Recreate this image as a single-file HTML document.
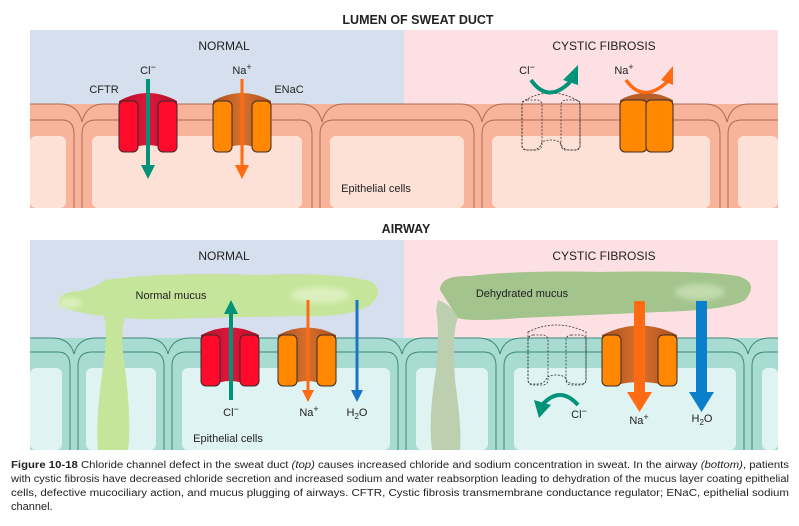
<!DOCTYPE html>
<html><head><meta charset="utf-8"><style>
html,body{margin:0;padding:0;background:#fff;width:799px;height:526px;overflow:hidden}
svg{display:block;font-family:"Liberation Sans",sans-serif}
</style></head><body>
<svg width="799" height="526" viewBox="0 0 799 526" xmlns="http://www.w3.org/2000/svg">
<defs>
<filter id="bl" x="-10%" y="-30%" width="120%" height="160%"><feGaussianBlur stdDeviation="3"/></filter>
<linearGradient id="brown" x1="0" x2="1"><stop offset="0" stop-color="#a8501e"/><stop offset="0.5" stop-color="#d8702c"/><stop offset="1" stop-color="#a8501e"/></linearGradient>
<linearGradient id="crim" x1="0" x2="1"><stop offset="0" stop-color="#b0102a"/><stop offset="0.5" stop-color="#e0163a"/><stop offset="1" stop-color="#b0102a"/></linearGradient>
</defs>

<!-- TOP -->
<text x="418" y="24" text-anchor="middle" font-size="12.5" font-weight="bold" fill="#222">LUMEN OF SWEAT DUCT</text>
<rect x="30" y="30" width="374" height="178" fill="#d5dfed"/>
<rect x="404" y="30" width="374" height="178" fill="#fde0e3"/>
<rect x="30" y="104" width="748" height="104" fill="#f8b39b"/>
<g fill="none" stroke="#b06a55" stroke-width="1">
<path d="M30 104 H60 Q78 104 82 122 Q86 104 104 104 H300 Q318 104 322 122 Q326 104 344 104 H460 Q478 104 482 122 Q486 104 504 104 H705 Q723 104 727 122 Q731 104 749 104 H778"/>
<path d="M30 120 H62 Q74 120 74 134 V208 M82 208 V134 Q82 120 96 120 H300 Q312 120 312 134 V208 M320 208 V134 Q320 120 334 120 H462 Q474 120 474 134 V208 M482 208 V134 Q482 120 496 120 H708 Q720 120 720 134 V208 M728 208 V134 Q728 120 742 120 H778"/>
</g>
<g fill="#fde0d6">
<rect x="30" y="136" width="36" height="72" rx="6"/>
<rect x="92" y="136" width="210" height="72" rx="6"/>
<rect x="330" y="136" width="134" height="72" rx="6"/>
<rect x="492" y="136" width="218" height="72" rx="6"/>
<rect x="738" y="136" width="40" height="72" rx="6"/>
</g>
<text x="224" y="50" text-anchor="middle" font-size="12" fill="#222">NORMAL</text>
<text x="604" y="50" text-anchor="middle" font-size="12" fill="#222">CYSTIC FIBROSIS</text>
<text x="104" y="93" text-anchor="middle" font-size="11" fill="#222">CFTR</text>
<text x="289" y="93" text-anchor="middle" font-size="11" fill="#222">ENaC</text>
<text x="148" y="74" text-anchor="middle" font-size="11" fill="#222">Cl<tspan dy="-4" font-size="9">−</tspan></text>
<text x="242" y="74" text-anchor="middle" font-size="11" fill="#222">Na<tspan dy="-4" font-size="9">+</tspan></text>
<text x="376" y="192" text-anchor="middle" font-size="11" fill="#222">Epithelial cells</text>

<g stroke="#3a2a2a" stroke-width="1">
<path d="M119 101 Q148 85 177 101 V140 Q177 150 168 150 Q148 140 128 150 Q119 150 119 140Z" fill="url(#crim)" stroke="none"/>
<rect x="119" y="101" width="19" height="51" rx="5" fill="#ff0a2a"/>
<rect x="158" y="101" width="19" height="51" rx="5" fill="#ff0a2a"/>
<path d="M213 101 Q242 85 271 101 V140 Q271 150 262 150 Q242 140 222 150 Q213 150 213 140Z" fill="url(#brown)" stroke="none"/>
<rect x="213" y="101" width="19" height="51" rx="5" fill="#ff8800"/>
<rect x="252" y="101" width="19" height="51" rx="5" fill="#ff8800"/>
</g>
<line x1="148" y1="79" x2="148" y2="168" stroke="#00937a" stroke-width="4"/>
<path d="M141 165 L148 179 L155 165Z" fill="#00937a"/>
<line x1="242" y1="79" x2="242" y2="168" stroke="#ff6a13" stroke-width="3"/>
<path d="M235 165 L242 179 L249 165Z" fill="#ff6a13"/>

<g fill="none" stroke="#333" stroke-width="0.8" stroke-dasharray="2,1.5">
<path d="M522 102 Q551 84 580 102 V146 Q580 150 575 150 H570 Q562 150 560 142 Q551 138 542 142 Q540 150 532 150 H527 Q522 150 522 146Z"/>
<rect x="522" y="100" width="20" height="50" rx="5"/>
<rect x="561" y="100" width="19" height="50" rx="5"/>
</g>
<path d="M620 100 Q646 86 673 100 V110 H620Z" fill="#b8602a"/>
<g stroke="#3a2a2a" stroke-width="1" fill="#ff8800">
<rect x="620" y="100" width="27" height="52" rx="5"/>
<rect x="646" y="100" width="27" height="52" rx="5"/>
</g>
<text x="527" y="74" text-anchor="middle" font-size="11" fill="#222">Cl<tspan dy="-4" font-size="9">−</tspan></text>
<text x="624" y="74" text-anchor="middle" font-size="11" fill="#222">Na<tspan dy="-4" font-size="9">+</tspan></text>
<path d="M531 80 Q548 104 570 82" fill="none" stroke="#00937a" stroke-width="4"/>
<path d="M563 80 L578 65 L578 85Z" fill="#00937a"/>
<path d="M626 80 Q643 104 667 82" fill="none" stroke="#ff6a13" stroke-width="3.5"/>
<path d="M661 80 L673 66 L673 85Z" fill="#ff6a13"/>

<!-- BOTTOM -->
<text x="406" y="233" text-anchor="middle" font-size="12.5" font-weight="bold" fill="#222">AIRWAY</text>
<rect x="30" y="240" width="374" height="210" fill="#d5dfed"/>
<rect x="404" y="240" width="374" height="210" fill="#fde0e3"/>
<rect x="30" y="338" width="748" height="112" fill="#a8dbd2"/>
<g fill="none" stroke="#3d8a75" stroke-width="1">
<path d="M30 338 H52 Q70 338 74 354 Q78 338 96 338 H146 Q164 338 168 354 Q172 338 190 338 H380 Q398 338 402 354 Q406 338 424 338 H478 Q496 338 500 354 Q504 338 522 338 H726 Q744 338 748 354 Q752 338 770 338 H778"/>
<path d="M30 352 H58 Q70 352 70 366 V450 M78 450 V366 Q78 352 92 352 H152 Q164 352 164 366 V450 M172 450 V366 Q172 352 186 352 H386 Q398 352 398 366 V450 M406 450 V366 Q406 352 420 352 H484 Q496 352 496 366 V450 M504 450 V366 Q504 352 518 352 H732 Q744 352 744 366 V450 M752 450 V366 Q752 352 766 352 H778"/>
</g>
<g fill="#dff4f2">
<rect x="30" y="368" width="32" height="82" rx="6"/>
<rect x="86" y="368" width="70" height="82" rx="6"/>
<rect x="182" y="368" width="208" height="82" rx="6"/>
<rect x="416" y="368" width="72" height="82" rx="6"/>
<rect x="514" y="368" width="222" height="82" rx="6"/>
<rect x="762" y="368" width="16" height="82" rx="6"/>
</g>
<path d="M60 306 Q55 292 80 291 Q95 288 105 280 Q160 272 260 275 Q340 272 372 282 Q385 292 370 305 Q350 318 300 316 L200 318 Q140 320 125 318 Q120 330 124 360 Q132 420 128 450 H98 Q95 420 104 360 Q108 330 104 316 Q80 314 60 306Z" fill="#c5e59a"/>
<ellipse cx="70" cy="303" rx="12" ry="5" fill="#dcf0bf" filter="url(#bl)"/>
<ellipse cx="320" cy="295" rx="30" ry="8" fill="#dcf0bf" filter="url(#bl)"/>
<path d="M440 290 Q440 275 470 276 Q520 270 600 272 Q700 270 738 276 Q760 283 745 300 Q730 310 660 312 L520 318 Q470 322 458 318 Z" fill="#a3c48d"/>
<path d="M438 300 Q452 305 458 318 Q452 330 455 380 Q462 430 460 450 H432 Q428 420 436 370 Q440 330 436 310Z" fill="#bccfae"/>
<ellipse cx="700" cy="292" rx="25" ry="8" fill="#c3dcae" filter="url(#bl)"/>
<text x="224" y="260" text-anchor="middle" font-size="12" fill="#222">NORMAL</text>
<text x="604" y="260" text-anchor="middle" font-size="12" fill="#222">CYSTIC FIBROSIS</text>
<text x="171" y="299" text-anchor="middle" font-size="11" fill="#222">Normal mucus</text>
<text x="522" y="297" text-anchor="middle" font-size="11" fill="#222">Dehydrated mucus</text>

<g stroke="#3a2a2a" stroke-width="1">
<path d="M201 335 Q230 320 259 335 V376 Q259 386 250 386 Q230 376 210 386 Q201 386 201 376Z" fill="url(#crim)" stroke="none"/>
<rect x="201" y="335" width="19" height="51" rx="5" fill="#ff0a2a"/>
<rect x="240" y="335" width="19" height="51" rx="5" fill="#ff0a2a"/>
<path d="M278 335 Q307 320 336 335 V376 Q336 386 327 386 Q307 376 287 386 Q278 386 278 376Z" fill="url(#brown)" stroke="none"/>
<rect x="278" y="335" width="19" height="51" rx="5" fill="#ff8800"/>
<rect x="317" y="335" width="19" height="51" rx="5" fill="#ff8800"/>
</g>
<line x1="231" y1="400" x2="231" y2="312" stroke="#00937a" stroke-width="4"/>
<path d="M224 314 L231 300 L238 314Z" fill="#00937a"/>
<line x1="308" y1="300" x2="308" y2="392" stroke="#ff6a13" stroke-width="3"/>
<path d="M302 390 L308 402 L314 390Z" fill="#ff6a13"/>
<line x1="357" y1="300" x2="357" y2="392" stroke="#1a75c4" stroke-width="3"/>
<path d="M351 390 L357 402 L363 390Z" fill="#1a75c4"/>
<text x="231" y="416" text-anchor="middle" font-size="11" fill="#222">Cl<tspan dy="-4" font-size="9">−</tspan></text>
<text x="309" y="416" text-anchor="middle" font-size="11" fill="#222">Na<tspan dy="-4" font-size="9">+</tspan></text>
<text x="357" y="416" text-anchor="middle" font-size="11" fill="#222">H<tspan dy="3" font-size="8">2</tspan><tspan dy="-3">O</tspan></text>
<text x="228" y="442" text-anchor="middle" font-size="11" fill="#222">Epithelial cells</text>

<g fill="none" stroke="#333" stroke-width="0.8" stroke-dasharray="2,1.5">
<path d="M528 332 Q556 318 586 332 V380 Q586 384 580 384 H575 Q567 384 565 377 Q556 373 547 377 Q545 384 537 384 H532 Q528 384 528 380Z"/>
<rect x="528" y="335" width="20" height="50" rx="5"/>
<rect x="566" y="335" width="20" height="50" rx="5"/>
</g>
<g stroke="#3a2a2a" stroke-width="1">
<path d="M602 335 Q640 316 677 335 V378 Q677 386 668 386 Q640 378 612 386 Q602 386 602 378Z" fill="url(#brown)" stroke="none"/>
<rect x="602" y="335" width="19" height="51" rx="5" fill="#ff8800"/>
<rect x="658" y="335" width="19" height="51" rx="5" fill="#ff8800"/>
</g>
<rect x="634" y="301" width="11" height="94" fill="#ff6a13"/>
<path d="M627 392 L639.5 412 L652 392Z" fill="#ff6a13"/>
<rect x="696" y="301" width="11" height="94" fill="#0a7fcc"/>
<path d="M689 392 L701.5 412 L714 392Z" fill="#0a7fcc"/>
<path d="M578 405 Q560 385 542 405" fill="none" stroke="#00937a" stroke-width="4"/>
<path d="M534 400 L539 418 L551 405Z" fill="#00937a"/>
<text x="579" y="418" text-anchor="middle" font-size="11" fill="#222">Cl<tspan dy="-4" font-size="9">−</tspan></text>
<text x="639" y="424" text-anchor="middle" font-size="11" fill="#222">Na<tspan dy="-4" font-size="9">+</tspan></text>
<text x="702" y="422" text-anchor="middle" font-size="11" fill="#222">H<tspan dy="3" font-size="8">2</tspan><tspan dy="-3">O</tspan></text>

<g font-size="10" fill="#222">
<text x="11" y="468" textLength="778" lengthAdjust="spacingAndGlyphs"><tspan font-weight="bold">Figure 10-18</tspan> Chloride channel defect in the sweat duct <tspan font-style="italic">(top)</tspan> causes increased chloride and sodium concentration in sweat. In the airway <tspan font-style="italic">(bottom)</tspan>, patients</text>
<text x="11" y="482" textLength="778" lengthAdjust="spacingAndGlyphs">with cystic fibrosis have decreased chloride secretion and increased sodium and water reabsorption leading to dehydration of the mucus layer coating epithelial</text>
<text x="11" y="496" textLength="778" lengthAdjust="spacingAndGlyphs">cells, defective mucociliary action, and mucus plugging of airways. CFTR, Cystic fibrosis transmembrane conductance regulator; ENaC, epithelial sodium</text>
<text x="11" y="510" font-size="11">channel.</text>
</g>
</svg>
</body></html>
